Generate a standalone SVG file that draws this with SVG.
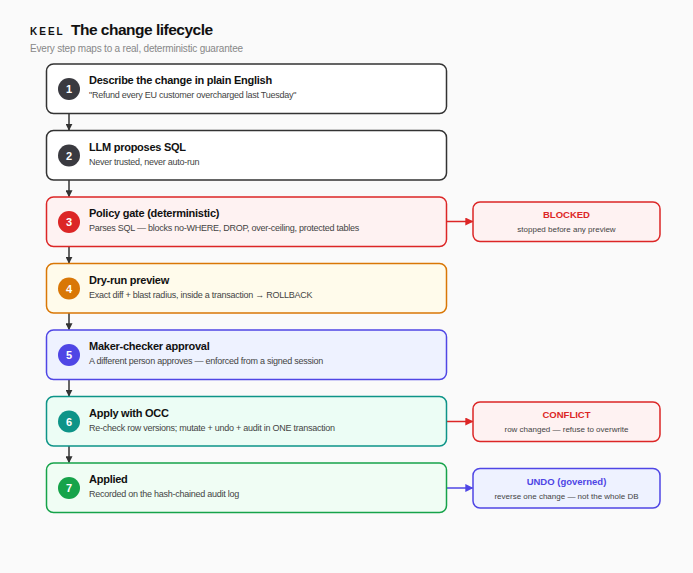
<svg xmlns="http://www.w3.org/2000/svg" width="693" height="573" viewBox="0 0 693 573">
<defs>
<style>
text{font-family:"Liberation Sans",Arial,sans-serif}
.box{stroke-width:1.5}
.t{font-size:11px;font-weight:bold;fill:#111;letter-spacing:-0.25px}
.s{font-size:9px;fill:#444;letter-spacing:-0.25px}
.n{font-size:11px;font-weight:bold;fill:#fff;text-anchor:middle}
.st{font-size:9.5px;font-weight:bold;text-anchor:middle}
.ss{font-size:8px;fill:#444;text-anchor:middle}
.down{stroke:#333;stroke-width:1.5;fill:none}
</style>
<marker id="ad" viewBox="0 0 10 10" refX="9" refY="5" markerWidth="7" markerHeight="7" orient="auto" markerUnits="userSpaceOnUse"><path d="M0,0L10,5L0,10z" fill="#333"/></marker>
<marker id="ar" viewBox="0 0 10 10" refX="9" refY="5" markerWidth="8" markerHeight="8" orient="auto" markerUnits="userSpaceOnUse"><path d="M0,0L10,5L0,10z" fill="#dc2626"/></marker>
<marker id="ab" viewBox="0 0 10 10" refX="9" refY="5" markerWidth="8" markerHeight="8" orient="auto" markerUnits="userSpaceOnUse"><path d="M0,0L10,5L0,10z" fill="#4f46e5"/></marker>
</defs>
<rect width="693" height="573" fill="#fafafa"/>
<text x="30" y="35" style="font-size:10px;font-weight:bold;letter-spacing:2px;fill:#111">KEEL</text>
<text x="71" y="35" style="font-size:15.5px;font-weight:bold;fill:#111;letter-spacing:-0.5px">The change lifecycle</text>
<text x="30" y="52" style="font-size:10px;fill:#888;letter-spacing:-0.2px">Every step maps to a real, deterministic guarantee</text>

<g id="connectors">
<line class="down" x1="69" y1="113.5" x2="69" y2="130" marker-end="url(#ad)"/>
<line class="down" x1="69" y1="180" x2="69" y2="196.5" marker-end="url(#ad)"/>
<line class="down" x1="69" y1="246.5" x2="69" y2="263" marker-end="url(#ad)"/>
<line class="down" x1="69" y1="313" x2="69" y2="329.5" marker-end="url(#ad)"/>
<line class="down" x1="69" y1="379.5" x2="69" y2="396" marker-end="url(#ad)"/>
<line class="down" x1="69" y1="446" x2="69" y2="462.5" marker-end="url(#ad)"/>
<line x1="446" y1="221.5" x2="472.5" y2="221.5" stroke="#dc2626" stroke-width="1.5" marker-end="url(#ar)"/>
<line x1="446" y1="421.5" x2="472.5" y2="421.5" stroke="#dc2626" stroke-width="1.5" marker-end="url(#ar)"/>
<line x1="446" y1="488" x2="472.5" y2="488" stroke="#4f46e5" stroke-width="1.5" marker-end="url(#ab)"/>
</g>

<g id="step1">
<rect class="box" x="46.5" y="64" width="400" height="49.5" rx="7" fill="#fff" stroke="#333"/>
<circle cx="69" cy="89" r="11" fill="#3a3a40"/><text class="n" x="69" y="93">1</text>
<text class="t" x="89" y="84">Describe the change in plain English</text>
<text class="s" x="89" y="98">"Refund every EU customer overcharged last Tuesday"</text>
</g>
<g id="step2">
<rect class="box" x="46.5" y="130.5" width="400" height="49.5" rx="7" fill="#fff" stroke="#333"/>
<circle cx="69" cy="155.5" r="11" fill="#3a3a40"/><text class="n" x="69" y="159.5">2</text>
<text class="t" x="89" y="150.5">LLM proposes SQL</text>
<text class="s" x="89" y="164.5">Never trusted, never auto-run</text>
</g>
<g id="step3">
<rect class="box" x="46.5" y="197" width="400" height="49.5" rx="7" fill="#fef2f2" stroke="#dc2626"/>
<circle cx="69" cy="222" r="11" fill="#dc2626"/><text class="n" x="69" y="226">3</text>
<text class="t" x="89" y="217">Policy gate (deterministic)</text>
<text class="s" x="89" y="231">Parses SQL — blocks no-WHERE, DROP, over-ceiling, protected tables</text>
</g>
<g id="step4">
<rect class="box" x="46.5" y="263.5" width="400" height="49.5" rx="7" fill="#fffbeb" stroke="#d97706"/>
<circle cx="69" cy="288.5" r="11" fill="#d97706"/><text class="n" x="69" y="292.5">4</text>
<text class="t" x="89" y="283.5">Dry-run preview</text>
<text class="s" x="89" y="297.5">Exact diff + blast radius, inside a transaction → ROLLBACK</text>
</g>
<g id="step5">
<rect class="box" x="46.5" y="330" width="400" height="49.5" rx="7" fill="#eef2ff" stroke="#4f46e5"/>
<circle cx="69" cy="355" r="11" fill="#4f46e5"/><text class="n" x="69" y="359">5</text>
<text class="t" x="89" y="350">Maker-checker approval</text>
<text class="s" x="89" y="364">A different person approves — enforced from a signed session</text>
</g>
<g id="step6">
<rect class="box" x="46.5" y="396.5" width="400" height="49.5" rx="7" fill="#ecfdf5" stroke="#0d9488"/>
<circle cx="69" cy="421.5" r="11" fill="#0d9488"/><text class="n" x="69" y="425.5">6</text>
<text class="t" x="89" y="416.5">Apply with OCC</text>
<text class="s" x="89" y="430.5">Re-check row versions; mutate + undo + audit in ONE transaction</text>
</g>
<g id="step7">
<rect class="box" x="46.5" y="463" width="400" height="49.5" rx="7" fill="#f0fdf4" stroke="#16a34a"/>
<circle cx="69" cy="488" r="11" fill="#16a34a"/><text class="n" x="69" y="492">7</text>
<text class="t" x="89" y="483">Applied</text>
<text class="s" x="89" y="497">Recorded on the hash-chained audit log</text>
</g>

<g id="blocked">
<rect class="box" x="473" y="202" width="187" height="39.5" rx="7" fill="#fef2f2" stroke="#dc2626"/>
<text class="st" x="566.5" y="218" fill="#dc2626">BLOCKED</text>
<text class="ss" x="566.5" y="232">stopped before any preview</text>
</g>
<g id="conflict">
<rect class="box" x="473" y="402" width="187" height="39.5" rx="7" fill="#fef2f2" stroke="#dc2626"/>
<text class="st" x="566.5" y="418" fill="#dc2626">CONFLICT</text>
<text class="ss" x="566.5" y="432">row changed — refuse to overwrite</text>
</g>
<g id="undo">
<rect class="box" x="473" y="468.5" width="187" height="39.5" rx="7" fill="#eef2ff" stroke="#4f46e5"/>
<text class="st" x="566.5" y="484.5" fill="#4f46e5">UNDO (governed)</text>
<text class="ss" x="566.5" y="498.5">reverse one change — not the whole DB</text>
</g>
</svg>
